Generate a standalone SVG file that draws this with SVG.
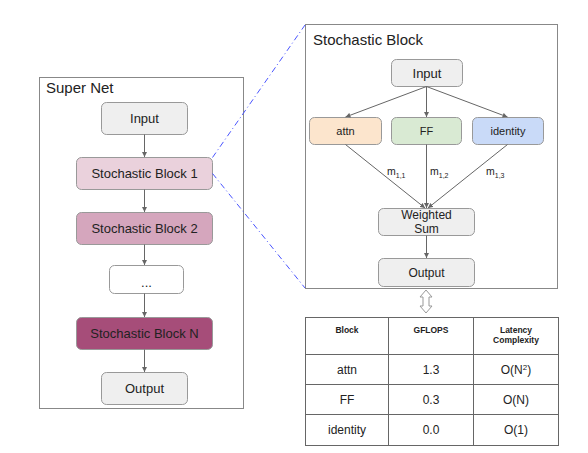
<svg xmlns="http://www.w3.org/2000/svg" width="588" height="453" viewBox="0 0 588 453">
<style>
text{font-family:"Liberation Sans",Arial,sans-serif;fill:#222}
.frame{fill:#fff;stroke:#888;stroke-width:1}
.node{stroke:#999;stroke-width:1}
.lbl{font-size:13px;text-anchor:middle}
.sm{font-size:11px;text-anchor:middle}
.md{font-size:12px;text-anchor:middle}
.conn line{stroke:#666;stroke-width:1;marker-end:url(#ah)}
.zoom{stroke:#4a55ff;stroke-width:1;stroke-dasharray:6 3 1 3;fill:none}
.tbl{stroke:#666;stroke-width:1;fill:none}
.th{font-size:8.5px;font-weight:bold;text-anchor:middle}
.td{font-size:12px;text-anchor:middle}
</style>
<defs>
<marker id="ah" markerWidth="6" markerHeight="6" refX="5" refY="3" orient="auto" markerUnits="userSpaceOnUse">
<path d="M0,0.5 L5,3 L0,5.5 z" fill="#666"/>
</marker>
</defs>
<rect width="588" height="453" fill="#fff"/>

<g id="supernet">
<rect class="frame" x="39.5" y="77.5" width="204" height="331"/>
<text x="46" y="93" font-size="15">Super Net</text>
</g>
<g id="sn-input"><rect class="node" x="101.5" y="102.5" width="86" height="32" rx="5" fill="#efefef"/><text class="lbl" x="144.5" y="123">Input</text></g>
<g id="sn-sb1"><rect class="node" x="76.5" y="157.5" width="136" height="32" rx="5" fill="#ead1dc"/><text class="lbl" x="144.5" y="178">Stochastic Block 1</text></g>
<g id="sn-sb2"><rect class="node" x="76.5" y="212.5" width="136" height="32" rx="5" fill="#d5a6bd"/><text class="lbl" x="144.5" y="233">Stochastic Block 2</text></g>
<g id="sn-dots"><rect class="node" x="109.5" y="265.5" width="74" height="28" rx="5" fill="#fff"/><text class="lbl" x="146.5" y="287">...</text></g>
<g id="sn-sbn"><rect class="node" x="76.5" y="317.5" width="136" height="32" rx="5" fill="#a64d79"/><text class="lbl" x="144.5" y="338">Stochastic Block N</text></g>
<g id="sn-output"><rect class="node" x="101.5" y="372.5" width="86" height="32" rx="5" fill="#efefef"/><text class="lbl" x="144.5" y="393">Output</text></g>

<g id="stochblock">
<rect class="frame" x="305.5" y="24.5" width="252" height="264"/>
<text x="313" y="45" font-size="15">Stochastic Block</text>
</g>
<g id="sb-input"><rect class="node" x="391.5" y="59.5" width="71" height="27" rx="5" fill="#efefef"/><text class="lbl" x="427" y="78">Input</text></g>
<g id="sb-attn"><rect class="node" x="309.5" y="117.5" width="72" height="27" rx="5" fill="#fce5cd"/><text class="sm" x="345.5" y="135">attn</text></g>
<g id="sb-ff"><rect class="node" x="391.5" y="117.5" width="70" height="27" rx="5" fill="#d9ead3"/><text class="sm" x="426.5" y="135">FF</text></g>
<g id="sb-identity"><rect class="node" x="472.5" y="117.5" width="71" height="27" rx="5" fill="#c9daf8"/><text class="sm" x="508" y="135">identity</text></g>
<g id="sb-wsum"><rect class="node" x="378.5" y="208.5" width="96" height="27" rx="5" fill="#efefef"/><text class="md" x="426.5" y="219">Weighted</text><text class="md" x="426.5" y="233">Sum</text></g>
<g id="sb-output"><rect class="node" x="378.5" y="258.5" width="96" height="28" rx="5" fill="#efefef"/><text class="md" x="426.5" y="277">Output</text></g>

<g id="connectors">
<g class="conn">
<line x1="144.5" y1="134.5" x2="144.5" y2="157"/>
<line x1="144.5" y1="189.5" x2="144.5" y2="212"/>
<line x1="144.5" y1="244.5" x2="144.5" y2="265"/>
<line x1="144.5" y1="293.5" x2="144.5" y2="317"/>
<line x1="144.5" y1="349.5" x2="144.5" y2="372"/>
<line x1="426.5" y1="86.5" x2="345.5" y2="117"/>
<line x1="426.5" y1="86.5" x2="426.5" y2="117"/>
<line x1="426.5" y1="86.5" x2="507.5" y2="117"/>
<line x1="345.5" y1="144.5" x2="425" y2="208"/>
<line x1="426.5" y1="144.5" x2="426.5" y2="208"/>
<line x1="507.5" y1="144.5" x2="428" y2="208"/>
<line x1="426.5" y1="235.5" x2="426.5" y2="258"/>
</g>
<line class="zoom" x1="212.5" y1="157.5" x2="305" y2="25"/>
<line class="zoom" x1="212.5" y1="173.5" x2="305" y2="288"/>
<path d="M426,290 L432,297 L429,297 L429,306 L432,306 L426,313 L420,306 L423,306 L423,297 L420,297 Z" fill="#fff" stroke="#999" stroke-width="1"/>
</g>

<g id="weights">
<text x="387" y="175" font-size="10.5">m<tspan font-size="7" dy="3">1,1</tspan></text>
<text x="430" y="175" font-size="10.5">m<tspan font-size="7" dy="3">1,2</tspan></text>
<text x="486" y="175" font-size="10.5">m<tspan font-size="7" dy="3">1,3</tspan></text>
</g>

<g id="table">
<rect class="tbl" x="305.5" y="317.5" width="253" height="128"/>
<line class="tbl" x1="388.5" y1="317.5" x2="388.5" y2="445.5"/>
<line class="tbl" x1="473.5" y1="317.5" x2="473.5" y2="445.5"/>
<line class="tbl" x1="305.5" y1="354.5" x2="558.5" y2="354.5"/>
<line class="tbl" x1="305.5" y1="384.5" x2="558.5" y2="384.5"/>
<line class="tbl" x1="305.5" y1="414.5" x2="558.5" y2="414.5"/>
<text class="th" x="347" y="333">Block</text>
<text class="th" x="431" y="333">GFLOPS</text>
<text class="th" x="516" y="333">Latency</text>
<text class="th" x="516" y="343">Complexity</text>
<text class="td" x="347" y="374">attn</text>
<text class="td" x="431" y="374">1.3</text>
<text class="td" x="516" y="374">O(N<tspan font-size="8" dy="-4">2</tspan><tspan dy="4">)</tspan></text>
<text class="td" x="347" y="404">FF</text>
<text class="td" x="431" y="404">0.3</text>
<text class="td" x="516" y="404">O(N)</text>
<text class="td" x="347" y="434">identity</text>
<text class="td" x="431" y="434">0.0</text>
<text class="td" x="516" y="434">O(1)</text>
</g>
</svg>
